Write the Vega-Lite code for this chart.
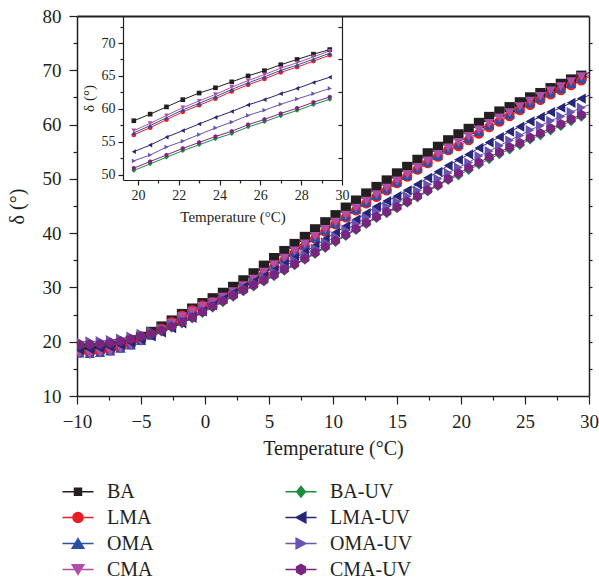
{
"$schema": "https://vega.github.io/schema/vega-lite/v6.json",
"width": 512, "height": 380,
"autosize": "none",
"padding": {"left": 77, "top": 16, "right": 10, "bottom": 186},
"background": "white",
"config": {
 "view": {"stroke": null},
 "font": "Liberation Serif",
 "axis": {"domainColor": "#231f20", "domainWidth": 1.5, "tickColor": "#231f20", "tickWidth": 1.2, "labelColor": "#231f20", "titleColor": "#231f20", "labelFont": "Liberation Serif", "titleFont": "Liberation Serif", "titleFontWeight": "normal", "grid": false, "labelFlush": false, "labelOverlap": false}
},
"data": {"values": [
{"s":"BA","t":-9.8,"v":18.9},{"s":"BA","t":-9,"v":18.8},{"s":"BA","t":-8.2,"v":18.9},{"s":"BA","t":-7.4,"v":19.2},{"s":"BA","t":-6.6,"v":19.6},{"s":"BA","t":-5.8,"v":20.2},{"s":"BA","t":-5,"v":20.9},{"s":"BA","t":-4.2,"v":21.8},{"s":"BA","t":-3.4,"v":22.8},{"s":"BA","t":-2.6,"v":23.9},{"s":"BA","t":-1.8,"v":25.1},{"s":"BA","t":-1,"v":26.1},{"s":"BA","t":-0.2,"v":27.1},{"s":"BA","t":0.6,"v":28.0},{"s":"BA","t":1.4,"v":29.0},{"s":"BA","t":2.2,"v":30.1},{"s":"BA","t":3,"v":31.3},{"s":"BA","t":3.8,"v":32.6},{"s":"BA","t":4.6,"v":34.0},{"s":"BA","t":5.4,"v":35.4},{"s":"BA","t":6.2,"v":36.7},{"s":"BA","t":7,"v":38.0},{"s":"BA","t":7.8,"v":39.3},{"s":"BA","t":8.6,"v":40.7},{"s":"BA","t":9.4,"v":42.0},{"s":"BA","t":10.2,"v":43.3},{"s":"BA","t":11,"v":44.7},{"s":"BA","t":11.8,"v":46.0},{"s":"BA","t":12.6,"v":47.3},{"s":"BA","t":13.4,"v":48.5},{"s":"BA","t":14.2,"v":49.7},{"s":"BA","t":15,"v":51.0},{"s":"BA","t":15.8,"v":52.2},{"s":"BA","t":16.6,"v":53.5},{"s":"BA","t":17.4,"v":54.7},{"s":"BA","t":18.2,"v":55.9},{"s":"BA","t":19,"v":57.1},{"s":"BA","t":19.8,"v":58.2},{"s":"BA","t":20.6,"v":59.2},{"s":"BA","t":21.4,"v":60.3},{"s":"BA","t":22.2,"v":61.4},{"s":"BA","t":23,"v":62.4},{"s":"BA","t":23.8,"v":63.2},{"s":"BA","t":24.6,"v":64.1},{"s":"BA","t":25.4,"v":65.0},{"s":"BA","t":26.2,"v":65.8},{"s":"BA","t":27,"v":66.7},{"s":"BA","t":27.8,"v":67.5},{"s":"BA","t":28.6,"v":68.3},{"s":"BA","t":29.4,"v":69.0},{"s":"BA","t":30.2,"v":69.8},
{"s":"LMA","t":-9.8,"v":18.0},{"s":"LMA","t":-9,"v":17.9},{"s":"LMA","t":-8.2,"v":18.1},{"s":"LMA","t":-7.4,"v":18.4},{"s":"LMA","t":-6.6,"v":18.9},{"s":"LMA","t":-5.8,"v":19.5},{"s":"LMA","t":-5,"v":20.3},{"s":"LMA","t":-4.2,"v":21.3},{"s":"LMA","t":-3.4,"v":22.4},{"s":"LMA","t":-2.6,"v":23.6},{"s":"LMA","t":-1.8,"v":24.8},{"s":"LMA","t":-1,"v":25.8},{"s":"LMA","t":-0.2,"v":26.7},{"s":"LMA","t":0.6,"v":27.3},{"s":"LMA","t":1.4,"v":28.0},{"s":"LMA","t":2.2,"v":28.9},{"s":"LMA","t":3,"v":29.9},{"s":"LMA","t":3.8,"v":31.1},{"s":"LMA","t":4.6,"v":32.4},{"s":"LMA","t":5.4,"v":33.8},{"s":"LMA","t":6.2,"v":35.0},{"s":"LMA","t":7,"v":36.3},{"s":"LMA","t":7.8,"v":37.6},{"s":"LMA","t":8.6,"v":39.0},{"s":"LMA","t":9.4,"v":40.3},{"s":"LMA","t":10.2,"v":41.6},{"s":"LMA","t":11,"v":42.9},{"s":"LMA","t":11.8,"v":44.2},{"s":"LMA","t":12.6,"v":45.5},{"s":"LMA","t":13.4,"v":46.7},{"s":"LMA","t":14.2,"v":47.9},{"s":"LMA","t":15,"v":49.2},{"s":"LMA","t":15.8,"v":50.4},{"s":"LMA","t":16.6,"v":51.7},{"s":"LMA","t":17.4,"v":52.9},{"s":"LMA","t":18.2,"v":54.1},{"s":"LMA","t":19,"v":55.3},{"s":"LMA","t":19.8,"v":56.05},{"s":"LMA","t":20.6,"v":57.15},{"s":"LMA","t":21.4,"v":58.35},{"s":"LMA","t":22.2,"v":59.55},{"s":"LMA","t":23,"v":60.55},{"s":"LMA","t":23.8,"v":61.55},{"s":"LMA","t":24.6,"v":62.65},{"s":"LMA","t":25.4,"v":63.65},{"s":"LMA","t":26.2,"v":64.55},{"s":"LMA","t":27,"v":65.55},{"s":"LMA","t":27.8,"v":66.35},{"s":"LMA","t":28.6,"v":67.25},{"s":"LMA","t":29.4,"v":68.15},{"s":"LMA","t":30.2,"v":68.95},
{"s":"OMA","t":-9.8,"v":17.9},{"s":"OMA","t":-9,"v":17.8},{"s":"OMA","t":-8.2,"v":18.0},{"s":"OMA","t":-7.4,"v":18.3},{"s":"OMA","t":-6.6,"v":18.8},{"s":"OMA","t":-5.8,"v":19.4},{"s":"OMA","t":-5,"v":20.2},{"s":"OMA","t":-4.2,"v":21.2},{"s":"OMA","t":-3.4,"v":22.3},{"s":"OMA","t":-2.6,"v":23.5},{"s":"OMA","t":-1.8,"v":24.7},{"s":"OMA","t":-1,"v":25.7},{"s":"OMA","t":-0.2,"v":26.6},{"s":"OMA","t":0.6,"v":27.3},{"s":"OMA","t":1.4,"v":28.1},{"s":"OMA","t":2.2,"v":29.0},{"s":"OMA","t":3,"v":30.1},{"s":"OMA","t":3.8,"v":31.3},{"s":"OMA","t":4.6,"v":32.6},{"s":"OMA","t":5.4,"v":34.0},{"s":"OMA","t":6.2,"v":35.2},{"s":"OMA","t":7,"v":36.5},{"s":"OMA","t":7.8,"v":37.8},{"s":"OMA","t":8.6,"v":39.2},{"s":"OMA","t":9.4,"v":40.5},{"s":"OMA","t":10.2,"v":41.8},{"s":"OMA","t":11,"v":43.1},{"s":"OMA","t":11.8,"v":44.4},{"s":"OMA","t":12.6,"v":45.7},{"s":"OMA","t":13.4,"v":46.9},{"s":"OMA","t":14.2,"v":48.1},{"s":"OMA","t":15,"v":49.4},{"s":"OMA","t":15.8,"v":50.6},{"s":"OMA","t":16.6,"v":51.9},{"s":"OMA","t":17.4,"v":53.1},{"s":"OMA","t":18.2,"v":54.3},{"s":"OMA","t":19,"v":55.5},{"s":"OMA","t":19.8,"v":56.35},{"s":"OMA","t":20.6,"v":57.45},{"s":"OMA","t":21.4,"v":58.65},{"s":"OMA","t":22.2,"v":59.85},{"s":"OMA","t":23,"v":60.85},{"s":"OMA","t":23.8,"v":61.85},{"s":"OMA","t":24.6,"v":62.95},{"s":"OMA","t":25.4,"v":63.95},{"s":"OMA","t":26.2,"v":64.85},{"s":"OMA","t":27,"v":65.85},{"s":"OMA","t":27.8,"v":66.65},{"s":"OMA","t":28.6,"v":67.55},{"s":"OMA","t":29.4,"v":68.45},{"s":"OMA","t":30.2,"v":69.25},
{"s":"CMA","t":-9.8,"v":17.8},{"s":"CMA","t":-9,"v":17.7},{"s":"CMA","t":-8.2,"v":17.9},{"s":"CMA","t":-7.4,"v":18.2},{"s":"CMA","t":-6.6,"v":18.7},{"s":"CMA","t":-5.8,"v":19.3},{"s":"CMA","t":-5,"v":20.1},{"s":"CMA","t":-4.2,"v":21.1},{"s":"CMA","t":-3.4,"v":22.2},{"s":"CMA","t":-2.6,"v":23.4},{"s":"CMA","t":-1.8,"v":24.6},{"s":"CMA","t":-1,"v":25.6},{"s":"CMA","t":-0.2,"v":26.5},{"s":"CMA","t":0.6,"v":27.3},{"s":"CMA","t":1.4,"v":28.2},{"s":"CMA","t":2.2,"v":29.2},{"s":"CMA","t":3,"v":30.3},{"s":"CMA","t":3.8,"v":31.5},{"s":"CMA","t":4.6,"v":32.8},{"s":"CMA","t":5.4,"v":34.2},{"s":"CMA","t":6.2,"v":35.4},{"s":"CMA","t":7,"v":36.7},{"s":"CMA","t":7.8,"v":38.0},{"s":"CMA","t":8.6,"v":39.4},{"s":"CMA","t":9.4,"v":40.7},{"s":"CMA","t":10.2,"v":42.0},{"s":"CMA","t":11,"v":43.3},{"s":"CMA","t":11.8,"v":44.6},{"s":"CMA","t":12.6,"v":45.9},{"s":"CMA","t":13.4,"v":47.1},{"s":"CMA","t":14.2,"v":48.3},{"s":"CMA","t":15,"v":49.6},{"s":"CMA","t":15.8,"v":50.8},{"s":"CMA","t":16.6,"v":52.1},{"s":"CMA","t":17.4,"v":53.3},{"s":"CMA","t":18.2,"v":54.5},{"s":"CMA","t":19,"v":55.7},{"s":"CMA","t":19.8,"v":56.7},{"s":"CMA","t":20.6,"v":57.8},{"s":"CMA","t":21.4,"v":59.0},{"s":"CMA","t":22.2,"v":60.2},{"s":"CMA","t":23,"v":61.2},{"s":"CMA","t":23.8,"v":62.2},{"s":"CMA","t":24.6,"v":63.3},{"s":"CMA","t":25.4,"v":64.3},{"s":"CMA","t":26.2,"v":65.2},{"s":"CMA","t":27,"v":66.2},{"s":"CMA","t":27.8,"v":67.0},{"s":"CMA","t":28.6,"v":67.9},{"s":"CMA","t":29.4,"v":68.8},{"s":"CMA","t":30.2,"v":69.6},
{"s":"BA-UV","t":-9.8,"v":19.2},{"s":"BA-UV","t":-9,"v":19.3},{"s":"BA-UV","t":-8.2,"v":19.4},{"s":"BA-UV","t":-7.4,"v":19.6},{"s":"BA-UV","t":-6.6,"v":19.9},{"s":"BA-UV","t":-5.8,"v":20.3},{"s":"BA-UV","t":-5,"v":20.8},{"s":"BA-UV","t":-4.2,"v":21.3},{"s":"BA-UV","t":-3.4,"v":21.9},{"s":"BA-UV","t":-2.6,"v":22.6},{"s":"BA-UV","t":-1.8,"v":23.4},{"s":"BA-UV","t":-1,"v":24.3},{"s":"BA-UV","t":-0.2,"v":25.3},{"s":"BA-UV","t":0.6,"v":26.3},{"s":"BA-UV","t":1.4,"v":27.3},{"s":"BA-UV","t":2.2,"v":28.3},{"s":"BA-UV","t":3,"v":29.3},{"s":"BA-UV","t":3.8,"v":30.2},{"s":"BA-UV","t":4.6,"v":31.1},{"s":"BA-UV","t":5.4,"v":32.1},{"s":"BA-UV","t":6.2,"v":33.1},{"s":"BA-UV","t":7,"v":34.1},{"s":"BA-UV","t":7.8,"v":35.1},{"s":"BA-UV","t":8.6,"v":36.2},{"s":"BA-UV","t":9.4,"v":37.3},{"s":"BA-UV","t":10.2,"v":38.4},{"s":"BA-UV","t":11,"v":39.5},{"s":"BA-UV","t":11.8,"v":40.6},{"s":"BA-UV","t":12.6,"v":41.7},{"s":"BA-UV","t":13.4,"v":42.8},{"s":"BA-UV","t":14.2,"v":43.7},{"s":"BA-UV","t":15,"v":44.6},{"s":"BA-UV","t":15.8,"v":45.6},{"s":"BA-UV","t":16.6,"v":46.6},{"s":"BA-UV","t":17.4,"v":47.7},{"s":"BA-UV","t":18.2,"v":48.7},{"s":"BA-UV","t":19,"v":49.8},{"s":"BA-UV","t":19.8,"v":50.65},{"s":"BA-UV","t":20.6,"v":51.65},{"s":"BA-UV","t":21.4,"v":52.65},{"s":"BA-UV","t":22.2,"v":53.65},{"s":"BA-UV","t":23,"v":54.55},{"s":"BA-UV","t":23.8,"v":55.45},{"s":"BA-UV","t":24.6,"v":56.25},{"s":"BA-UV","t":25.4,"v":57.25},{"s":"BA-UV","t":26.2,"v":58.05},{"s":"BA-UV","t":27,"v":58.95},{"s":"BA-UV","t":27.8,"v":59.75},{"s":"BA-UV","t":28.6,"v":60.65},{"s":"BA-UV","t":29.4,"v":61.45},{"s":"BA-UV","t":30.2,"v":62.15},
{"s":"LMA-UV","t":-9.8,"v":18.5},{"s":"LMA-UV","t":-9,"v":18.6},{"s":"LMA-UV","t":-8.2,"v":18.75},{"s":"LMA-UV","t":-7.4,"v":19.0},{"s":"LMA-UV","t":-6.6,"v":19.35},{"s":"LMA-UV","t":-5.8,"v":19.8},{"s":"LMA-UV","t":-5,"v":20.4},{"s":"LMA-UV","t":-4.2,"v":21.0},{"s":"LMA-UV","t":-3.4,"v":21.7},{"s":"LMA-UV","t":-2.6,"v":22.5},{"s":"LMA-UV","t":-1.8,"v":23.4},{"s":"LMA-UV","t":-1,"v":24.4},{"s":"LMA-UV","t":-0.2,"v":25.6},{"s":"LMA-UV","t":0.6,"v":26.7},{"s":"LMA-UV","t":1.4,"v":27.85},{"s":"LMA-UV","t":2.2,"v":29.0},{"s":"LMA-UV","t":3,"v":30.1},{"s":"LMA-UV","t":3.8,"v":31.1},{"s":"LMA-UV","t":4.6,"v":32.1},{"s":"LMA-UV","t":5.4,"v":33.2},{"s":"LMA-UV","t":6.2,"v":34.3},{"s":"LMA-UV","t":7,"v":35.4},{"s":"LMA-UV","t":7.8,"v":36.5},{"s":"LMA-UV","t":8.6,"v":37.7},{"s":"LMA-UV","t":9.4,"v":38.9},{"s":"LMA-UV","t":10.2,"v":40.1},{"s":"LMA-UV","t":11,"v":41.3},{"s":"LMA-UV","t":11.8,"v":42.5},{"s":"LMA-UV","t":12.6,"v":43.7},{"s":"LMA-UV","t":13.4,"v":44.9},{"s":"LMA-UV","t":14.2,"v":45.9},{"s":"LMA-UV","t":15,"v":46.8},{"s":"LMA-UV","t":15.8,"v":47.9},{"s":"LMA-UV","t":16.6,"v":49.0},{"s":"LMA-UV","t":17.4,"v":50.2},{"s":"LMA-UV","t":18.2,"v":51.3},{"s":"LMA-UV","t":19,"v":52.45},{"s":"LMA-UV","t":19.8,"v":53.5},{"s":"LMA-UV","t":20.6,"v":54.5},{"s":"LMA-UV","t":21.4,"v":55.7},{"s":"LMA-UV","t":22.2,"v":56.7},{"s":"LMA-UV","t":23,"v":57.7},{"s":"LMA-UV","t":23.8,"v":58.7},{"s":"LMA-UV","t":24.6,"v":59.6},{"s":"LMA-UV","t":25.4,"v":60.6},{"s":"LMA-UV","t":26.2,"v":61.4},{"s":"LMA-UV","t":27,"v":62.3},{"s":"LMA-UV","t":27.8,"v":63.1},{"s":"LMA-UV","t":28.6,"v":64.0},{"s":"LMA-UV","t":29.4,"v":64.8},{"s":"LMA-UV","t":30.2,"v":65.6},
{"s":"OMA-UV","t":-9.8,"v":20.0},{"s":"OMA-UV","t":-9,"v":20.05},{"s":"OMA-UV","t":-8.2,"v":20.1},{"s":"OMA-UV","t":-7.4,"v":20.3},{"s":"OMA-UV","t":-6.6,"v":20.55},{"s":"OMA-UV","t":-5.8,"v":20.95},{"s":"OMA-UV","t":-5,"v":21.45},{"s":"OMA-UV","t":-4.2,"v":21.9},{"s":"OMA-UV","t":-3.4,"v":22.45},{"s":"OMA-UV","t":-2.6,"v":23.15},{"s":"OMA-UV","t":-1.8,"v":23.9},{"s":"OMA-UV","t":-1,"v":24.8},{"s":"OMA-UV","t":-0.2,"v":25.8},{"s":"OMA-UV","t":0.6,"v":26.85},{"s":"OMA-UV","t":1.4,"v":27.9},{"s":"OMA-UV","t":2.2,"v":28.9},{"s":"OMA-UV","t":3,"v":29.95},{"s":"OMA-UV","t":3.8,"v":30.9},{"s":"OMA-UV","t":4.6,"v":31.8},{"s":"OMA-UV","t":5.4,"v":32.85},{"s":"OMA-UV","t":6.2,"v":33.9},{"s":"OMA-UV","t":7,"v":34.95},{"s":"OMA-UV","t":7.8,"v":36.0},{"s":"OMA-UV","t":8.6,"v":37.15},{"s":"OMA-UV","t":9.4,"v":38.3},{"s":"OMA-UV","t":10.2,"v":39.4},{"s":"OMA-UV","t":11,"v":40.55},{"s":"OMA-UV","t":11.8,"v":41.7},{"s":"OMA-UV","t":12.6,"v":42.85},{"s":"OMA-UV","t":13.4,"v":44.0},{"s":"OMA-UV","t":14.2,"v":44.9},{"s":"OMA-UV","t":15,"v":45.8},{"s":"OMA-UV","t":15.8,"v":46.8},{"s":"OMA-UV","t":16.6,"v":47.85},{"s":"OMA-UV","t":17.4,"v":48.95},{"s":"OMA-UV","t":18.2,"v":50.0},{"s":"OMA-UV","t":19,"v":51.1},{"s":"OMA-UV","t":19.8,"v":52.1},{"s":"OMA-UV","t":20.6,"v":53.0},{"s":"OMA-UV","t":21.4,"v":54.2},{"s":"OMA-UV","t":22.2,"v":55.1},{"s":"OMA-UV","t":23,"v":56.1},{"s":"OMA-UV","t":23.8,"v":57.1},{"s":"OMA-UV","t":24.6,"v":58.0},{"s":"OMA-UV","t":25.4,"v":59.0},{"s":"OMA-UV","t":26.2,"v":59.8},{"s":"OMA-UV","t":27,"v":60.7},{"s":"OMA-UV","t":27.8,"v":61.5},{"s":"OMA-UV","t":28.6,"v":62.3},{"s":"OMA-UV","t":29.4,"v":63.1},{"s":"OMA-UV","t":30.2,"v":63.8},
{"s":"CMA-UV","t":-9.8,"v":19.4},{"s":"CMA-UV","t":-9,"v":19.5},{"s":"CMA-UV","t":-8.2,"v":19.6},{"s":"CMA-UV","t":-7.4,"v":19.8},{"s":"CMA-UV","t":-6.6,"v":20.1},{"s":"CMA-UV","t":-5.8,"v":20.5},{"s":"CMA-UV","t":-5,"v":21.0},{"s":"CMA-UV","t":-4.2,"v":21.5},{"s":"CMA-UV","t":-3.4,"v":22.1},{"s":"CMA-UV","t":-2.6,"v":22.8},{"s":"CMA-UV","t":-1.8,"v":23.6},{"s":"CMA-UV","t":-1,"v":24.5},{"s":"CMA-UV","t":-0.2,"v":25.5},{"s":"CMA-UV","t":0.6,"v":26.5},{"s":"CMA-UV","t":1.4,"v":27.5},{"s":"CMA-UV","t":2.2,"v":28.5},{"s":"CMA-UV","t":3,"v":29.5},{"s":"CMA-UV","t":3.8,"v":30.4},{"s":"CMA-UV","t":4.6,"v":31.3},{"s":"CMA-UV","t":5.4,"v":32.3},{"s":"CMA-UV","t":6.2,"v":33.3},{"s":"CMA-UV","t":7,"v":34.3},{"s":"CMA-UV","t":7.8,"v":35.3},{"s":"CMA-UV","t":8.6,"v":36.4},{"s":"CMA-UV","t":9.4,"v":37.5},{"s":"CMA-UV","t":10.2,"v":38.6},{"s":"CMA-UV","t":11,"v":39.7},{"s":"CMA-UV","t":11.8,"v":40.8},{"s":"CMA-UV","t":12.6,"v":41.9},{"s":"CMA-UV","t":13.4,"v":43.0},{"s":"CMA-UV","t":14.2,"v":43.9},{"s":"CMA-UV","t":15,"v":44.8},{"s":"CMA-UV","t":15.8,"v":45.8},{"s":"CMA-UV","t":16.6,"v":46.8},{"s":"CMA-UV","t":17.4,"v":47.9},{"s":"CMA-UV","t":18.2,"v":48.9},{"s":"CMA-UV","t":19,"v":50.0},{"s":"CMA-UV","t":19.8,"v":51.0},{"s":"CMA-UV","t":20.6,"v":52.0},{"s":"CMA-UV","t":21.4,"v":53.0},{"s":"CMA-UV","t":22.2,"v":54.0},{"s":"CMA-UV","t":23,"v":54.9},{"s":"CMA-UV","t":23.8,"v":55.8},{"s":"CMA-UV","t":24.6,"v":56.6},{"s":"CMA-UV","t":25.4,"v":57.6},{"s":"CMA-UV","t":26.2,"v":58.4},{"s":"CMA-UV","t":27,"v":59.3},{"s":"CMA-UV","t":27.8,"v":60.1},{"s":"CMA-UV","t":28.6,"v":61.0},{"s":"CMA-UV","t":29.4,"v":61.8},{"s":"CMA-UV","t":30.2,"v":62.5}
]},
"layer": [
 {
  "layer": [
   {
    "mark": {"type": "line", "strokeWidth": 1, "clip": true},
    "encoding": {
     "x": {"field": "t", "type": "quantitative", "scale": {"domain": [-10, 30], "nice": false, "zero": false},
       "axis": {"orient": "bottom", "values": [-10, -5, 0, 5, 10, 15, 20, 25, 30], "tickSize": 8, "labelFontSize": 19, "labelPadding": 8, "title": "Temperature (°C)", "titleFontSize": 20, "titlePadding": 7}},
     "y": {"field": "v", "type": "quantitative", "scale": {"domain": [10, 80], "nice": false, "zero": false},
       "axis": {"orient": "left", "values": [10, 20, 30, 40, 50, 60, 70, 80], "tickSize": 8, "labelFontSize": 19, "labelPadding": 8, "title": "δ (°)", "titleFontSize": 20, "titlePadding": 15}},
     "color": {"field": "s", "type": "nominal", "scale": {"domain": ["BA", "LMA", "OMA", "CMA", "BA-UV", "LMA-UV", "OMA-UV", "CMA-UV"], "range": ["#231f20", "#ed1c24", "#2b4fa2", "#b14ea8", "#1d8c3f", "#252678", "#6a54b2", "#7a2580"]}, "legend": null}
    }
   },
   {
    "transform": [{"filter": {"field": "t", "lte": 30}}],
    "mark": {"type": "point", "filled": true, "opacity": 1, "size": 105, "clip": true},
    "encoding": {
     "x": {"field": "t", "type": "quantitative", "scale": {"domain": [-10, 30], "nice": false, "zero": false},
       "axis": {"orient": "bottom", "values": [-7.5, -2.5, 2.5, 7.5, 12.5, 17.5, 22.5, 27.5], "tickSize": 4, "labels": false, "domain": false, "title": null}},
     "y": {"field": "v", "type": "quantitative", "scale": {"domain": [10, 80], "nice": false, "zero": false},
       "axis": {"orient": "left", "values": [15, 25, 35, 45, 55, 65, 75], "tickSize": 4, "labels": false, "domain": false, "title": null}},
     "color": {"field": "s", "type": "nominal", "scale": {"domain": ["BA", "LMA", "OMA", "CMA", "BA-UV", "LMA-UV", "OMA-UV", "CMA-UV"], "range": ["#231f20", "#ed1c24", "#2b4fa2", "#b14ea8", "#1d8c3f", "#252678", "#6a54b2", "#7a2580"]}, "legend": null},
     "shape": {"field": "s", "type": "nominal", "scale": {"domain": ["BA", "LMA", "OMA", "CMA", "BA-UV", "LMA-UV", "OMA-UV", "CMA-UV"], "range": ["square", "circle", "triangle-up", "triangle-down", "diamond", "triangle-left", "triangle-right", "M0,-1L0.866,-0.5L0.866,0.5L0,1L-0.866,0.5L-0.866,-0.5Z"]}, "legend": null}
    }
   },
   {
    "mark": {"type": "point", "opacity": 0},
    "encoding": {
     "x": {"field": "t", "type": "quantitative", "scale": {"domain": [-10, 30], "nice": false, "zero": false},
       "axis": {"orient": "top", "ticks": false, "labels": false, "title": null, "domainWidth": 2}},
     "y": {"field": "v", "type": "quantitative", "scale": {"domain": [10, 80], "nice": false, "zero": false},
       "axis": {"orient": "right", "values": [15, 20, 25, 30, 35, 40, 45, 50, 55, 60, 65, 70, 75], "tickSize": 3, "labels": false, "title": null}}
    }
   }
  ],
  "resolve": {"axis": {"x": "independent", "y": "independent"}}
 },
 {
  "transform": [{"filter": {"field": "t", "range": [19.5, 30]}}],
  "layer": [
   {
    "mark": {"type": "line", "strokeWidth": 1, "clip": true},
    "encoding": {
     "x": {"field": "t", "type": "quantitative", "scale": {"domain": [19.27, 30], "range": [46, 265], "nice": false, "zero": false},
       "axis": {"orient": "bottom", "offset": -216, "values": [20, 22, 24, 26, 28, 30], "tickSize": 5, "labelFontSize": 14, "labelPadding": 3, "title": "Temperature (°C)", "titleFontSize": 15, "titlePadding": 7, "domainWidth": 1.2}},
     "y": {"field": "v", "type": "quantitative", "scale": {"domain": [49.2, 74.1], "range": [164, 0], "nice": false, "zero": false},
       "axis": {"orient": "left", "offset": -46, "values": [50, 55, 60, 65, 70], "tickSize": 5, "labelFontSize": 14, "labelPadding": 3, "title": "δ (°)", "titleFontSize": 15, "titlePadding": 5, "domainWidth": 1.2}},
     "color": {"field": "s", "type": "nominal", "scale": {"domain": ["BA", "LMA", "OMA", "CMA", "BA-UV", "LMA-UV", "OMA-UV", "CMA-UV"], "range": ["#231f20", "#ed1c24", "#2b4fa2", "#b14ea8", "#1d8c3f", "#252678", "#6a54b2", "#7a2580"]}, "legend": null}
    }
   },
   {
    "mark": {"type": "point", "filled": true, "opacity": 1, "size": 22, "clip": true},
    "encoding": {
     "x": {"field": "t", "type": "quantitative", "scale": {"domain": [19.27, 30], "range": [46, 265], "nice": false, "zero": false},
       "axis": {"orient": "bottom", "offset": -216, "values": [21, 23, 25, 27, 29], "tickSize": 3, "labels": false, "domain": false, "title": null}},
     "y": {"field": "v", "type": "quantitative", "scale": {"domain": [49.2, 74.1], "range": [164, 0], "nice": false, "zero": false},
       "axis": {"orient": "left", "offset": -46, "values": [52.5, 57.5, 62.5, 67.5, 72.5], "tickSize": 3, "labels": false, "domain": false, "title": null}},
     "color": {"field": "s", "type": "nominal", "scale": {"domain": ["BA", "LMA", "OMA", "CMA", "BA-UV", "LMA-UV", "OMA-UV", "CMA-UV"], "range": ["#231f20", "#ed1c24", "#2b4fa2", "#b14ea8", "#1d8c3f", "#252678", "#6a54b2", "#7a2580"]}, "legend": null},
     "shape": {"field": "s", "type": "nominal", "scale": {"domain": ["BA", "LMA", "OMA", "CMA", "BA-UV", "LMA-UV", "OMA-UV", "CMA-UV"], "range": ["square", "circle", "triangle-up", "triangle-down", "diamond", "triangle-left", "triangle-right", "M0,-1L0.866,-0.5L0.866,0.5L0,1L-0.866,0.5L-0.866,-0.5Z"]}, "legend": null}
    }
   },
   {
    "mark": {"type": "point", "opacity": 0},
    "encoding": {
     "x": {"field": "t", "type": "quantitative", "scale": {"domain": [19.27, 30], "range": [46, 265], "nice": false, "zero": false}, "axis": null},
     "y": {"field": "v", "type": "quantitative", "scale": {"domain": [49.2, 74.1], "range": [164, 0], "nice": false, "zero": false},
       "axis": {"orient": "right", "offset": -247, "values": [52.5, 57.5, 62.5, 67.5, 72.5], "tickSize": -4, "labels": false, "title": null, "domainWidth": 1.2}}
    }
   }
  ],
  "resolve": {"axis": {"x": "independent", "y": "independent"}}
 },
 {
  "mark": {"type": "point", "opacity": 0},
  "encoding": {
   "fill": {"field": "s", "type": "nominal", "scale": {"domain": ["BA", "LMA", "OMA", "CMA", "BA-UV", "LMA-UV", "OMA-UV", "CMA-UV"], "range": ["#231f20", "#ed1c24", "#2b4fa2", "#b14ea8", "#1d8c3f", "#252678", "#6a54b2", "#7a2580"]},
     "legend": {"title": null, "orient": "none", "legendX": -9.5, "legendY": 465, "columns": 2, "columnPadding": 127, "rowPadding": 5, "gridAlign": "each", "padding": 0, "symbolSize": 376, "symbolStrokeWidth": 1.5, "symbolOpacity": 1, "labelFont": "Liberation Serif", "labelFontSize": 20, "labelColor": "#231f20", "labelOffset": 18.5}},
   "stroke": {"field": "s", "type": "nominal", "scale": {"domain": ["BA", "LMA", "OMA", "CMA", "BA-UV", "LMA-UV", "OMA-UV", "CMA-UV"], "range": ["#231f20", "#ed1c24", "#2b4fa2", "#b14ea8", "#1d8c3f", "#252678", "#6a54b2", "#7a2580"]},
     "legend": {"title": null, "orient": "none", "legendX": -9.5, "legendY": 465, "columns": 2, "columnPadding": 127, "rowPadding": 5, "gridAlign": "each", "padding": 0, "symbolSize": 376, "symbolStrokeWidth": 1.5, "symbolOpacity": 1, "labelFont": "Liberation Serif", "labelFontSize": 20, "labelColor": "#231f20", "labelOffset": 18.5}},
   "shape": {"field": "s", "type": "nominal", "scale": {"domain": ["BA", "LMA", "OMA", "CMA", "BA-UV", "LMA-UV", "OMA-UV", "CMA-UV"], "range": [
     "M-1.6,0H1.6M-0.36,-0.36H0.36V0.36H-0.36Z",
     "M-1.6,0H1.6M0.52,0A0.52,0.52,0,1,1,-0.52,0A0.52,0.52,0,1,1,0.52,0Z",
     "M-1.6,0H1.6M0,-0.5L0.6,0.5L-0.6,0.5Z",
     "M-1.6,0H1.6M0,0.5L0.6,-0.5L-0.6,-0.5Z",
     "M-1.6,0H1.6M0,-0.55L0.45,0L0,0.55L-0.45,0Z",
     "M-1.6,0H1.6M-0.5,0L0.5,-0.55L0.5,0.55Z",
     "M-1.6,0H1.6M0.5,0L-0.5,-0.55L-0.5,0.55Z",
     "M-1.6,0H1.6M0,-0.52L0.45,-0.26L0.45,0.26L0,0.52L-0.45,0.26L-0.45,-0.26Z"]},
     "legend": {"title": null, "orient": "none", "legendX": -9.5, "legendY": 465, "columns": 2, "columnPadding": 127, "rowPadding": 5, "gridAlign": "each", "padding": 0, "symbolSize": 376, "symbolStrokeWidth": 1.5, "symbolOpacity": 1, "labelFont": "Liberation Serif", "labelFontSize": 20, "labelColor": "#231f20", "labelOffset": 18.5}}
  }
 }
],
"resolve": {"scale": {"x": "independent", "y": "independent", "color": "independent", "shape": "independent", "fill": "independent", "stroke": "independent"}, "axis": {"x": "independent", "y": "independent"}}
}
